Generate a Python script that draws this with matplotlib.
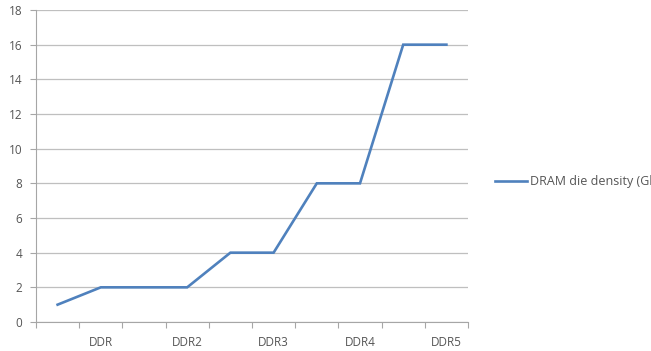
import matplotlib.pyplot as plt
import numpy as np

# DRAM die density per generation (Gb)
categories = ["", "DDR", "", "DDR2", "", "DDR3", "", "DDR4", "", "DDR5"]
density = [1, 2, 2, 2, 4, 4, 8, 8, 16, 16]
series_name = "DRAM die density (Gb)"

plt.rcParams["font.family"] = ["Open Sans", "DejaVu Sans"]

fig = plt.figure(figsize=(6.51, 3.51), dpi=100)
ax = fig.add_axes([36 / 651, 1 - 322 / 351, 432 / 651, 312 / 351])

x = np.arange(len(density))
line, = ax.plot(x, density, color="#4F81BD", lw=1.9, solid_joinstyle="miter",
                label=series_name, zorder=3)

ax.set_xlim(-0.5, len(density) - 0.5)
ax.set_ylim(0, 18)
ax.set_yticks(np.arange(0, 19, 2))

# tick marks sit on category boundaries, labels on category centres
ax.set_xticks(np.arange(-0.5, len(density), 1.0))
ax.set_xticklabels([])
ax.set_xticks(x, minor=True)
ax.set_xticklabels(categories, minor=True)
ax.tick_params(axis="x", which="major", length=4, color="#a6a6a6", width=0.8)
ax.tick_params(axis="x", which="minor", length=0, pad=10, labelsize=8.5,
               labelcolor="#555555")
ax.tick_params(axis="y", length=4, color="#a6a6a6", width=0.8, pad=6,
               labelsize=8.5, labelcolor="#555555")

ax.grid(axis="y", color="#bfbfbf", lw=0.9)
ax.set_axisbelow(True)
for side in ["top", "right"]:
    ax.spines[side].set_visible(False)
for side in ["left", "bottom"]:
    ax.spines[side].set_color("#a6a6a6")
    ax.spines[side].set_linewidth(0.8)

# legend sits at the right edge; its label runs past the figure border
fig.legend(handles=[line], loc="center left", bbox_to_anchor=(484 / 651, 1 - 182 / 351),
           frameon=False, fontsize=9, handlelength=2.5, handletextpad=0.3,
           labelcolor="#555555")

fig.savefig("out.png", dpi=100)
